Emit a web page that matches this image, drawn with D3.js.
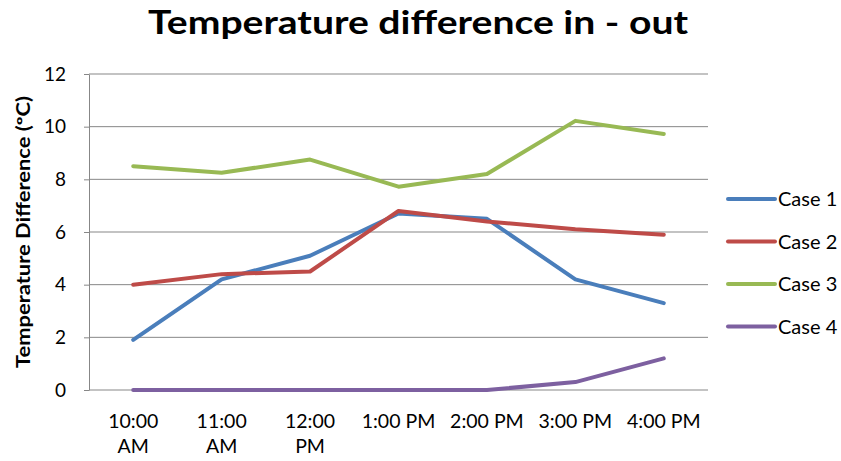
<!DOCTYPE html>
<html>
<head>
<meta charset="utf-8">
<script src="https://cdn.jsdelivr.net/npm/d3@7"></script>
<style>
  html, body { margin: 0; padding: 0; background: #fff; }
  svg { display: block; font-family: Lato, "Open Sans", sans-serif; }
</style>
</head>
<body>
<svg id="chart" width="841" height="461"></svg>
<script>
// Hourly readings, 10 AM – 4 PM
const categories = [["10:00", "AM"], ["11:00", "AM"], ["12:00", "PM"], ["1:00 PM"], ["2:00 PM"], ["3:00 PM"], ["4:00 PM"]];
const case1 = [1.9, 4.2, 5.1, 6.7, 6.5, 4.2, 3.3];
const case2 = [4.0, 4.4, 4.5, 6.8, 6.4, 6.1, 5.9];
const case3 = [8.5, 8.25, 8.75, 7.72, 8.2, 10.22, 9.72];
const case4 = [0, 0, 0, 0, 0, 0.3, 1.2];
const seriesNames = ["Case 1", "Case 2", "Case 3", "Case 4"];
const seriesColors = ["#4A7EBB", "#BE4B48", "#98B954", "#7D60A0"];
const yTicks = [0, 2, 4, 6, 8, 10, 12];

const series = [case1, case2, case3, case4].map((v, i) => ({ name: seriesNames[i], color: seriesColors[i], values: v }));

const svg = d3.select("#chart");
const plot = { left: 89, right: 708, top: 74, bottom: 390 };

const x = d3.scalePoint()
  .domain(d3.range(categories.length))
  .range([plot.left, plot.right])
  .padding(0.5);
const y = d3.scaleLinear().domain([0, 12]).range([plot.bottom, plot.top]);

// Title
svg.append("text")
  .attr("x", 418).attr("y", 33.5)
  .attr("text-anchor", "middle")
  .attr("font-size", 33).attr("font-weight", "bold")
  .attr("textLength", 540).attr("lengthAdjust", "spacingAndGlyphs")
  .attr("fill", "#000")
  .text("Temperature difference in - out");

// Gridlines
svg.append("g")
  .selectAll("line")
  .data(yTicks.filter(d => d > 0))
  .join("line")
  .attr("x1", plot.left).attr("x2", plot.right)
  .attr("y1", d => y(d)).attr("y2", d => y(d))
  .attr("stroke", "#878787").attr("stroke-width", 1);

// Y axis
const yAxis = svg.append("g")
  .attr("transform", `translate(${plot.left},0)`)
  .call(d3.axisLeft(y).tickValues(yTicks).tickSize(5).tickPadding(18).tickSizeOuter(0));
yAxis.select(".domain").attr("stroke", "#878787");
yAxis.selectAll(".tick line").attr("stroke", "#878787");
yAxis.selectAll(".tick text")
  .attr("font-size", 19).attr("fill", "#000")
  .attr("font-family", "Lato, sans-serif");

// X baseline
svg.append("line")
  .attr("x1", plot.left).attr("x2", plot.right)
  .attr("y1", y(0)).attr("y2", y(0))
  .attr("stroke", "#878787");

// X labels
const xl = svg.append("g")
  .selectAll("text")
  .data(categories)
  .join("text")
  .attr("x", (d, i) => x(i))
  .attr("y", 428)
  .attr("text-anchor", "middle")
  .attr("font-size", 19.5).attr("fill", "#000");
xl.selectAll("tspan")
  .data(d => d)
  .join("tspan")
  .attr("x", function () { return d3.select(this.parentNode).attr("x"); })
  .attr("dy", (d, i) => i === 0 ? 0 : 25)
  .text(d => d);

// Y axis title
svg.append("text")
  .attr("transform", `translate(30,${(plot.top + plot.bottom) / 2}) rotate(-90)`)
  .attr("text-anchor", "middle")
  .attr("font-size", 18).attr("font-weight", "bold")
  .attr("textLength", 272).attr("lengthAdjust", "spacingAndGlyphs")
  .attr("fill", "#000")
  .text("Temperature Difference (ºC)");

// Lines
const line = d3.line().x((d, i) => x(i)).y(d => y(d));
svg.append("g")
  .selectAll("path")
  .data(series)
  .join("path")
  .attr("d", d => line(d.values))
  .attr("fill", "none")
  .attr("stroke", d => d.color)
  .attr("stroke-width", 4)
  .attr("stroke-linejoin", "round")
  .attr("stroke-linecap", "round");

// Legend
const legend = svg.append("g")
  .selectAll("g")
  .data(series)
  .join("g")
  .attr("transform", (d, i) => `translate(728,${199 + i * 42.5})`);
legend.append("line")
  .attr("x1", 0).attr("x2", 47)
  .attr("stroke", d => d.color).attr("stroke-width", 4)
  .attr("stroke-linecap", "round");
legend.append("text")
  .attr("x", 50).attr("y", 7)
  .attr("font-size", 20).attr("fill", "#000")
  .text(d => d.name);
</script>
</body>
</html>
